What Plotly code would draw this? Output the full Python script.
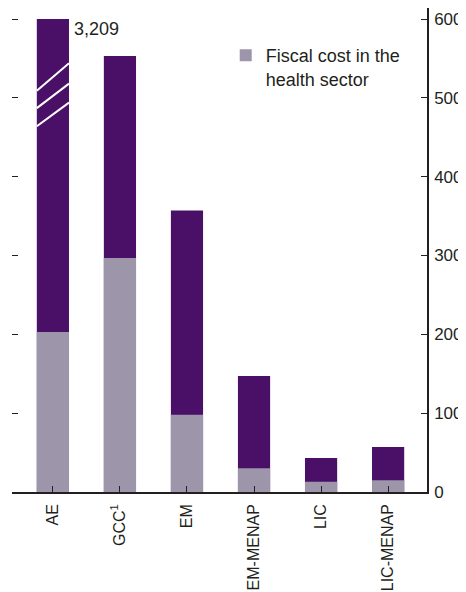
import plotly.graph_objs as go

categories = ['AE', 'GCC<sup>1</sup>', 'EM', 'EM-MENAP', 'LIC', 'LIC-MENAP']
total_cost = [3209, 553, 357, 147, 43, 57]
fiscal_cost = [203, 297, 98, 30, 13, 15]
y_ticks = [0, 100, 200, 300, 400, 500, 600]

# axis is broken at 600, AE runs off the top
y_cap = 600
total_shown = [min(v, y_cap) for v in total_cost]

dark = '#4a0f66'
grey = '#9d95aa'
ink = '#231f20'
font = 'Liberation Sans, Arial'

x_idx = list(range(len(categories)))

fig = go.Figure()
fig.add_trace(go.Bar(
    x=x_idx, y=total_shown, width=0.48,
    marker_color=dark, marker_line_width=0,
    showlegend=False, yaxis='y',
    customdata=total_cost, hovertemplate='%{customdata}<extra></extra>',
))
fig.add_trace(go.Bar(
    x=x_idx, y=fiscal_cost, width=0.48,
    marker_color=grey, marker_line_width=0,
    name='Fiscal cost in the<br>health sector', yaxis='y2',
))

# break marks on the AE bar
for y0, y1 in [(509, 544), (487, 518), (464, 494)]:
    fig.add_shape(type='line', xref='x', yref='y', x0=-0.24, x1=0.24,
                  y0=y0, y1=y1, line=dict(color='white', width=2))

fig.add_annotation(x=0.29, y=588, xref='x', yref='y', text='3,209',
                   showarrow=False, xanchor='left', yanchor='middle',
                   font=dict(size=18, color=ink))

# the page body adds an 8px margin, so margins are shifted to compensate
fig.update_layout(
    width=466, height=592,
    margin=dict(l=4, r=47, t=0, b=108),
    plot_bgcolor='white', paper_bgcolor='white',
    barmode='overlay',
    font=dict(family=font, size=16, color=ink),
    xaxis=dict(
        tickmode='array', tickvals=x_idx, ticktext=categories,
        range=[-0.61, 5.58], tickangle=-90,
        tickson='boundaries', ticks='inside', ticklen=6, tickcolor=ink,
        showline=True, linecolor=ink, linewidth=1.5,
        showgrid=False, zeroline=False,
        ticklabelstandoff=4, automargin=False,
    ),
    yaxis=dict(
        range=[0, 614], tickvals=y_ticks, showticklabels=False,
        ticks='inside', ticklen=6, tickcolor=ink,
        showline=False, showgrid=False, zeroline=False, automargin=False,
    ),
    yaxis2=dict(
        range=[0, 614], tickvals=y_ticks, overlaying='y', side='right',
        ticks='inside', ticklen=6, tickcolor=ink,
        showline=True, linecolor=ink, linewidth=1.5,
        showgrid=False, zeroline=False, automargin=False,
        ticklabelstandoff=2, tickfont=dict(size=17),
    ),
    legend=dict(x=0.515, y=0.94, xanchor='left', yanchor='top', valign='top',
                bgcolor='rgba(0,0,0,0)', font=dict(size=18)),
)

fig.write_html('out.html')
